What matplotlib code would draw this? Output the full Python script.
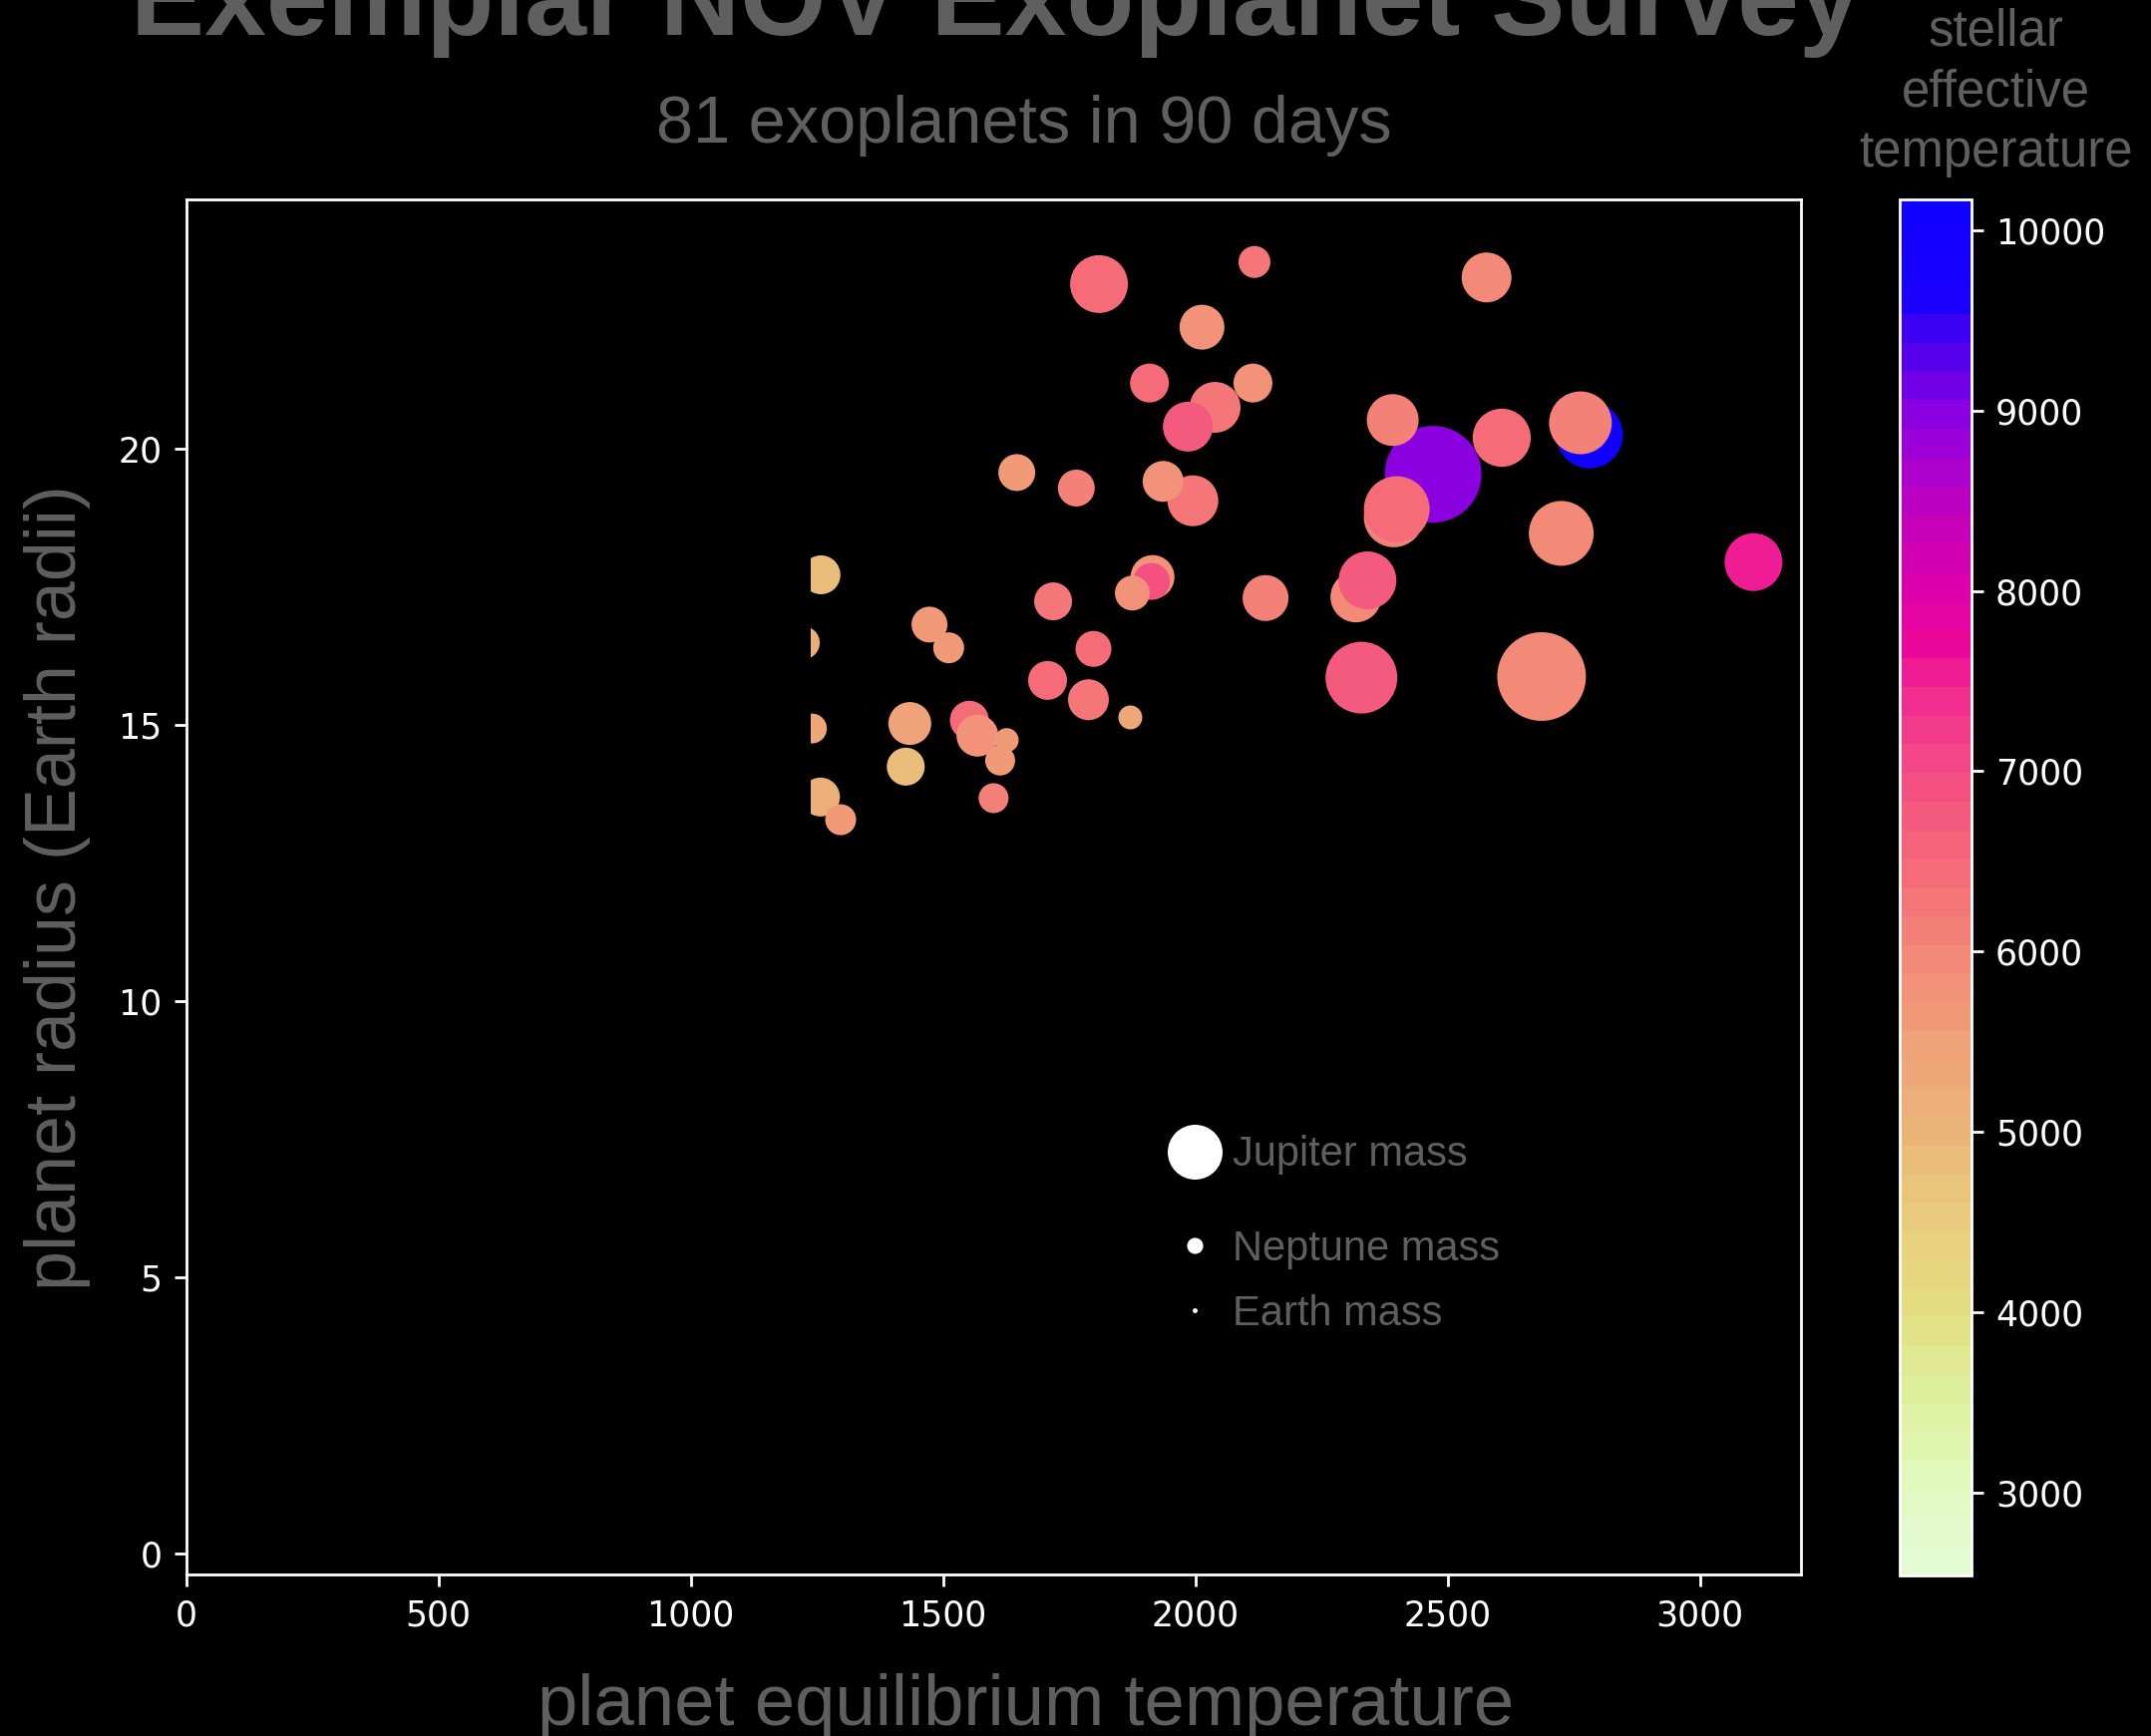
import numpy as np
import matplotlib
matplotlib.use('Agg')
import matplotlib.pyplot as plt
from matplotlib.colors import LinearSegmentedColormap, Normalize
from matplotlib.patches import Rectangle

# valores (orden = orden de dibujo, los de atras primero)
teq = [2781, 2471, 2391, 2393, 2399, 2763, 2607, 1809, 2117, 2577,
       2013, 1909, 2114, 2039, 1985, 1646, 1764, 1995, 1936, 2725,
       3106, 2318, 2341, 2329, 2686, 2139, 1915, 1913, 1875, 1258,
       1223, 1240, 1257, 1297, 1473, 1511, 1434, 1426, 1552, 1568,
       1613, 1626, 1600, 1718, 1798, 1707, 1788, 1871]
radio = [20.24, 19.53, 20.51, 18.75, 18.90, 20.46, 20.19, 22.97, 23.37, 23.09,
         22.19, 21.18, 21.18, 20.74, 20.39, 19.56, 19.28, 19.05, 19.40, 18.46,
         17.94, 17.31, 17.61, 15.85, 15.87, 17.29, 17.67, 17.59, 17.38, 17.71,
         16.48, 14.93, 13.69, 13.28, 16.81, 16.39, 15.02, 14.24, 15.08, 14.80,
         14.35, 14.72, 13.67, 17.23, 16.37, 15.80, 15.45, 15.13]
masa_mj = [1.60, 3.86, 0.875, 1.23, 1.54, 1.38, 1.15, 1.135, 0.276, 0.797,
           0.620, 0.441, 0.441, 0.835, 0.797, 0.389, 0.389, 0.835, 0.497, 1.49,
           1.135, 0.835, 1.135, 1.90, 3.14, 0.654, 0.588, 0.389, 0.341, 0.441,
           0.296, 0.236, 0.441, 0.256, 0.365, 0.256, 0.557, 0.415, 0.441, 0.526,
           0.236, 0.139, 0.236, 0.415, 0.365, 0.441, 0.497, 0.139]
teff = [10100, 9000, 6100, 6100, 6500, 6100, 6500, 6400, 6300, 5900,
        5800, 6400, 5800, 6200, 6700, 5700, 6100, 6200, 5800, 5900,
        7500, 5900, 6800, 6800, 6000, 6100, 5800, 6900, 5800, 4900,
        5200, 5300, 5200, 5700, 5700, 5700, 5500, 4900, 6400, 5800,
        5600, 5700, 6100, 6300, 6400, 6400, 6200, 5300]

leyenda_txt = ['Jupiter mass', 'Neptune mass', 'Earth mass']
leyenda_masa = [1.0, 0.054, 0.00315]

xticks = [0, 500, 1000, 1500, 2000, 2500, 3000]
yticks = [0, 5, 10, 15, 20]
cb_ticks = [3000, 4000, 5000, 6000, 7000, 8000, 9000, 10000]
t_min, t_max = 2540, 10170
x_corte = 1238  # los puntos de la izquierda estan recortados

DPI = 250
gris = '#5f5f5f'
fuente = 'Liberation Sans'

# colores del mapa (temperatura estelar -> color)
anclas = [(2540, '#e4fcd4'), (3000, '#e0f8bc'), (3500, '#def09c'), (4000, '#e4dc80'),
          (4500, '#eacb7e'), (5000, '#ecb478'), (5500, '#f0a078'), (6000, '#f38878'),
          (6500, '#f56878'), (7000, '#f44c84'), (7500, '#f02890'), (7700, '#ec0898'),
          (8000, '#e000a8'), (8500, '#c000c0'), (9000, '#9000e0'), (9500, '#4000f0'),
          (9700, '#1800ff'), (10170, '#1000ff')]
cmap = LinearSegmentedColormap.from_list(
    'estelar', [((t - t_min) / (t_max - t_min), c) for t, c in anclas], N=48)
norm = Normalize(vmin=t_min, vmax=t_max)


def tamano(m):
    # diametro en px ~ 55 * m^0.42 (m en masas de Jupiter), pasado a pt^2
    d = 55 * np.asarray(m, dtype=float) ** 0.42 * 72 / DPI
    return d ** 2


fig = plt.figure(figsize=(2157 / DPI, 1741 / DPI), dpi=DPI, facecolor='black')
ax = fig.add_axes([0.08656, 0.09288, 0.7507, 0.7922], facecolor='black')

sc = ax.scatter(teq, radio, s=tamano(masa_mj), c=teff, cmap=cmap, norm=norm, linewidths=0)
ax.set_xlim(0, 3200)
ax.set_ylim(-0.38, 24.5)
sc.set_clip_path(Rectangle((x_corte, -5), 5000, 40, transform=ax.transData))

ax.set_xticks(xticks)
ax.set_yticks(yticks)
for s in ax.spines.values():
    s.set_color('white')
ax.tick_params(colors='white')

# leyenda de masas
props = {'family': fuente, 'size': 12}
hs = [ax.scatter([], [], s=tamano(m), c='white', linewidths=0, label=t)
      for t, m in zip(leyenda_txt, leyenda_masa)]
opts = dict(loc='center left', bbox_transform=fig.transFigure, frameon=False,
            labelcolor=gris, handlelength=0.6, handletextpad=0.6, borderpad=0,
            borderaxespad=0, scatteryoffsets=[0.5], prop=props)
leg1 = ax.legend(handles=hs[:1], bbox_to_anchor=(0.5497, 0.3347), **opts)
ax.add_artist(leg1)
ax.legend(handles=hs[1:], bbox_to_anchor=(0.5497, 0.2619), labelspacing=0.6, **opts)

# barra de color
cax = fig.add_axes([0.8832, 0.09248, 0.03324, 0.7926])
cb = fig.colorbar(sc, cax=cax, ticks=cb_ticks)
cb.outline.set_edgecolor('white')
cax.tick_params(colors='white')

# textos
fig.text(0.4627, 0.9799, 'Exemplar NOV Exoplanet Survey', ha='center', va='baseline',
         fontsize=32, fontweight='bold', color=gris, family=fuente)
fig.text(0.4761, 0.9179, '81 exoplanets in 90 days', ha='center', va='baseline',
         fontsize=19.2, color=gris, family=fuente)
fig.text(0.4771, 0.00632, 'planet equilibrium temperature', ha='center', va='baseline',
         fontsize=20.9, color=gris, family=fuente)
fig.text(0.04205, 0.4885, 'planet radius (Earth radii)', ha='right', va='center',
         rotation=90, fontsize=20.7, color=gris, family=fuente)
fig.text(0.928, 0.9043, 'stellar\neffective\ntemperature', ha='center', va='baseline',
         ma='center', fontsize=14.7, linespacing=1.3, color=gris, family=fuente)

fig.savefig('out.png', dpi=DPI, facecolor='black')
